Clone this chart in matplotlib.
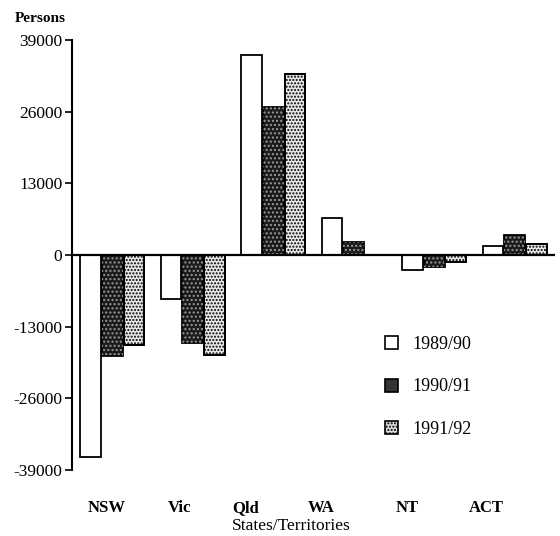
import matplotlib.pyplot as plt
from matplotlib.patches import Patch
import numpy as np

plt.rcParams['font.family'] = ['Liberation Serif', 'DejaVu Serif']

# data (persons, net interstate migration)
states = ['NSW', 'Vic', 'Qld', 'WA', 'NT', 'ACT']
years = ['1989/90', '1990/91', '1991/92']
v8990 = [-36700, -8000, 36300, 6700, -2700, 1600]
v9091 = [-18400, -15900, 26900, 2300, -2200, 3600]
v9192 = [-16300, -18100, 32900, 0, -1300, 2000]
yticks = [-39000, -26000, -13000, 0, 13000, 26000, 39000]

fig = plt.figure(figsize=(5.6, 5.36), dpi=100)
ax = fig.add_axes([0.1286, 0.1231, 0.8624, 0.8023])

x = np.arange(len(states))
w = 0.26
x1 = x + w / 2
x2 = x + w * 1.5 + 0.01
x3 = x + w * 2.5 + 0.02

# white bars
ax.bar(x1, v8990, w, facecolor='white', edgecolor='black', linewidth=1.3)
# dark dotted bars: dark face + light dots over it
ax.bar(x2, v9091, w, facecolor='#1a1a1a', edgecolor='black', linewidth=1.3)
ax.bar(x2, v9091, w, facecolor='none', edgecolor='#9a9a9a', hatch='....', linewidth=0)
# light dotted bars
ax.bar(x3, v9192, w, facecolor='#e8e8e8', edgecolor='black', hatch='.....', linewidth=1.3)
ax.bar(x3, v9192, w, facecolor='none', edgecolor='black', linewidth=1.3)

ax.axhline(0, color='black', lw=1.6)

ax.set_xlim(-0.1, 5.9)
ax.set_ylim(-39000, 39000)
ax.set_yticks(yticks)
ax.set_yticklabels([str(t) for t in yticks], fontsize=12.5)
ax.tick_params(axis='y', direction='out', length=5, width=1.2, pad=2)

# category labels sit a little left of the groups, on a common baseline
ax.set_xticks([])
label_pos = [0.335, 1.24, 2.06, 3.0, 4.07, 5.05]
for xp, name in zip(label_pos, states):
    ax.text(xp, -0.097, name, transform=ax.get_xaxis_transform(),
            ha='center', va='baseline', fontsize=12, fontweight='bold')
fig.text(0.52, 0.018, 'States/Territories', ha='center', va='center', fontsize=12.5)

for s in ['top', 'right', 'bottom']:
    ax.spines[s].set_visible(False)
ax.spines['left'].set_linewidth(1.5)

fig.text(0.027, 0.965, 'Persons', fontsize=11, fontweight='bold', va='center')

handles = [Patch(facecolor='white', edgecolor='black', linewidth=1.2),
           Patch(facecolor='#333333', edgecolor='black', linewidth=1.2),
           Patch(facecolor='#dddddd', edgecolor='black', hatch='.....', linewidth=1.2)]
ax.legend(handles, years, loc='upper left', bbox_to_anchor=(0.615, 0.349),
          frameon=False, fontsize=13, handlelength=0.72, handleheight=0.72,
          labelspacing=1.4, handletextpad=0.8)

plt.savefig('out.png', dpi=100)
